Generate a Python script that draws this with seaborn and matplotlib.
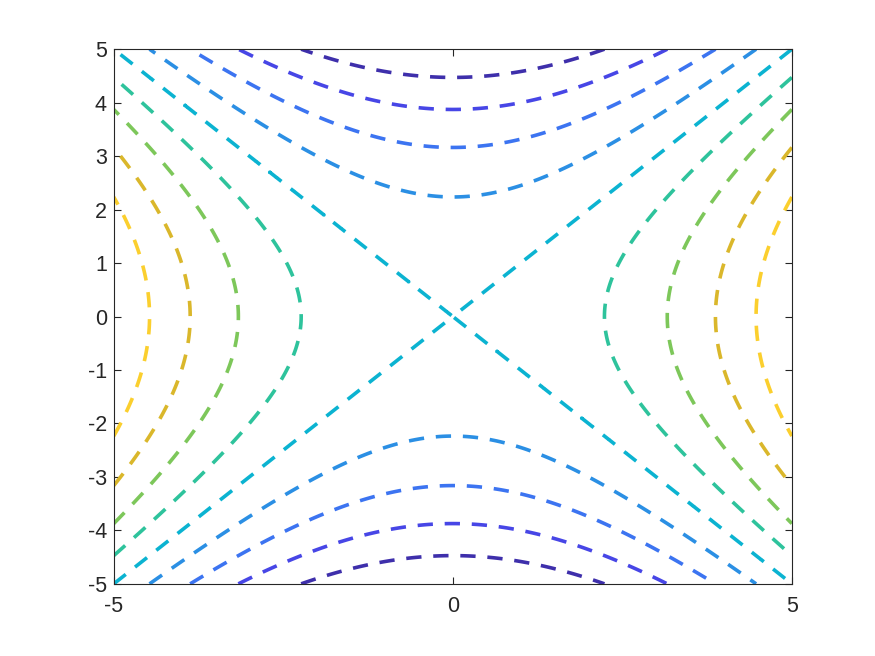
import numpy as np
import matplotlib
matplotlib.use("Agg")
import matplotlib.pyplot as plt
import seaborn as sns

# --- dados ---
x_vals = np.linspace(-5, 5, 201)
y_vals = np.linspace(-5, 5, 201)
niveis = [-20, -15, -10, -5, 0, 5, 10, 15, 20]
cores = ["#3e2fab", "#4746e6", "#3c74f1", "#2b8fe4", "#0bb3d1",
         "#2ec39c", "#7dc75a", "#dab72b", "#fbcf2e"]
xticks = [-5, 0, 5]
yticks = [-5, -4, -3, -2, -1, 0, 1, 2, 3, 4, 5]

X, Y = np.meshgrid(x_vals, y_vals)
Z = X**2 - Y**2

sns.set_theme(style="white")
plt.rcParams['font.family'] = ['Liberation Sans', 'DejaVu Sans']
plt.rcParams['lines.scale_dashes'] = False

fig = plt.figure(figsize=(8.75, 6.56), dpi=100)
ax = fig.add_axes([0.13, 0.11, 0.775, 0.815])

ax.contour(X, Y, Z, levels=niveis, colors=cores, linewidths=2.6,
           linestyles=[(0, (11.0, 8.5))])

ax.set_xlim(-5, 5)
ax.set_ylim(-5, 5)
ax.set_xticks(xticks)
ax.set_yticks(yticks)
ax.set_xticklabels([str(v) for v in xticks])
ax.set_yticklabels([str(v) for v in yticks])

cinza = "#262626"
for s in ax.spines.values():
    s.set_visible(True)
    s.set_color(cinza)
    s.set_linewidth(0.8)
ax.tick_params(direction="in", length=5, width=0.8, color=cinza,
               labelcolor=cinza, labelsize=15.5, top=True, right=True,
               bottom=True, left=True)
ax.tick_params(axis="x", pad=9)
ax.tick_params(axis="y", pad=5)
ax.grid(False)
ax.set_facecolor("white")
fig.patch.set_facecolor("white")

fig.savefig("out.png", dpi=100, facecolor="white")
